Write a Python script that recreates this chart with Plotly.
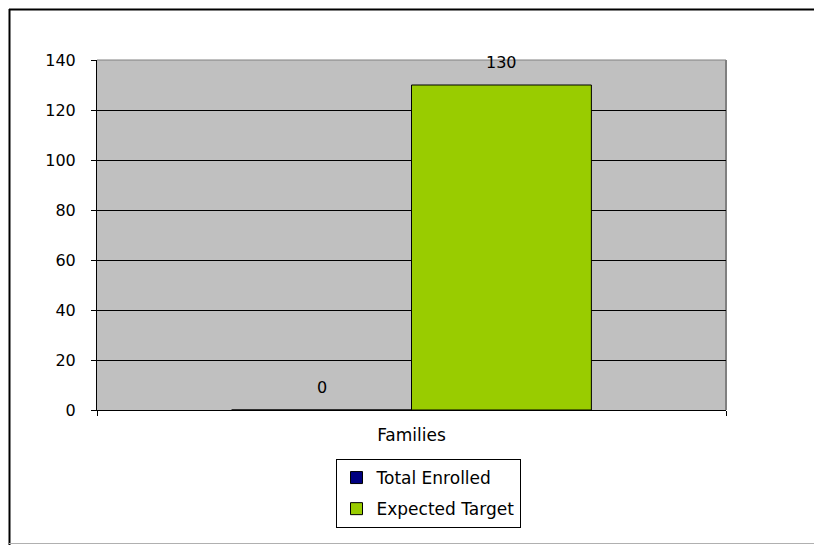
import plotly.graph_objects as go

categories = ["Families"]
series_names = ["Total Enrolled", "Expected Target"]
total_enrolled = [0]
expected_target = [130]
y_ticks = [0, 20, 40, 60, 80, 100, 120, 140]

# page offset of the figure (browser body margin)
OFF = 8
W, H = 822 - OFF, 545 - OFF
L, R, T, B = 97 - OFF, 96, 60 - OFF, 135
PW, PH = W - L - R, H - T - B
BARGAP = 0.428
BAR_PX = PW * (1 - BARGAP) / 2

def px(x):
    return (x - OFF - L) / PW

def py(y):
    return (H - B - (y - OFF)) / PH

FONT = "DejaVu Sans, Liberation Sans, Arial, sans-serif"

series = [
    (series_names[0], total_enrolled, "#000080", "a"),
    (series_names[1], expected_target, "#99CC00", "b"),
]

fig = go.Figure()
annotations = []
n = len(series)
for i, (name, vals, color, grp) in enumerate(series):
    fig.add_trace(go.Bar(
        name=name, x=categories, y=vals,
        marker=dict(color=color, line=dict(color="black", width=1)),
        legendgroup=grp,
    ))
    for c, v in zip(categories, vals):
        annotations.append(dict(
            x=c, y=v, xref="x", yref="y", text=str(v), showarrow=False,
            xshift=(i - (n - 1) / 2) * BAR_PX, yshift=23,
            yanchor="middle", font=dict(family=FONT, size=16, color="black"),
        ))

fig.update_layout(
    width=W, height=H,
    margin=dict(l=L, r=R, t=T, b=B),
    paper_bgcolor="white", plot_bgcolor="#C0C0C0",
    barmode="group", bargap=BARGAP, bargroupgap=0,
    font=dict(family=FONT, size=17, color="black"),
    showlegend=True,
    annotations=annotations,
    legend=dict(
        x=px(428), y=py(459), xanchor="center", yanchor="top",
        bordercolor="black", borderwidth=1, bgcolor="white",
        font=dict(family=FONT, size=17, color="black"),
        traceorder="grouped", tracegroupgap=6,
    ),
    xaxis=dict(
        showline=True, linecolor="black", linewidth=1,
        ticks="outside", tickson="boundaries", ticklen=5, tickcolor="black",
        showgrid=False, tickfont=dict(size=17), ticklabelstandoff=10,
    ),
    yaxis=dict(
        range=[0, 140], tickvals=y_ticks, showline=True, linecolor="black", linewidth=1,
        ticks="outside", ticklen=5, tickcolor="black",
        showgrid=True, gridcolor="black", gridwidth=1,
        zeroline=False, tickfont=dict(size=16), ticklabelstandoff=12,
    ),
    shapes=[
        dict(type="line", xref="paper", yref="paper", x0=1, x1=1, y0=0, y1=1,
             line=dict(color="#808080", width=2), layer="below"),
        dict(type="line", xref="paper", yref="paper", x0=0, x1=1, y0=1, y1=1,
             line=dict(color="#808080", width=1)),
        dict(type="line", xref="paper", yref="paper", x0=px(9), x1=px(822), y0=py(9.5), y1=py(9.5),
             line=dict(color="black", width=2)),
        dict(type="line", xref="paper", yref="paper", x0=px(9.5), x1=px(9.5), y0=py(9), y1=py(545),
             line=dict(color="black", width=2)),
        dict(type="line", xref="paper", yref="paper", x0=px(9), x1=px(822), y0=py(543.5), y1=py(543.5),
             line=dict(color="#B0B0B0", width=1)),
    ],
)

fig.write_html("out.html")
